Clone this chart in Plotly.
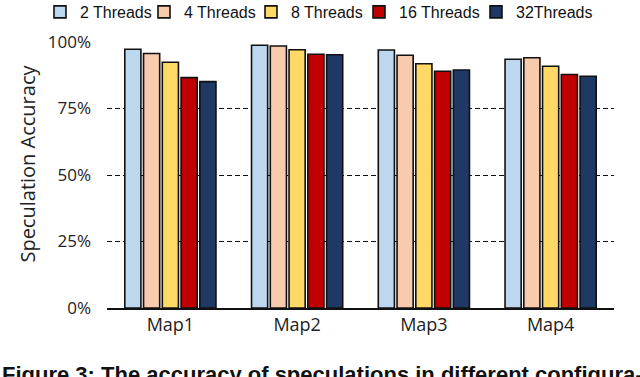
import plotly.graph_objects as go

maps = ["Map1", "Map2", "Map3", "Map4"]
series_names = ["2 Threads", "4 Threads", "8 Threads", "16 Threads", "32Threads"]
acc_2t = [0.973, 0.988, 0.970, 0.935]
acc_4t = [0.957, 0.985, 0.950, 0.941]
acc_8t = [0.924, 0.971, 0.918, 0.909]
acc_16t = [0.866, 0.954, 0.890, 0.878]
acc_32t = [0.851, 0.952, 0.895, 0.871]
colors = ["#BDD7EE", "#F8CBAD", "#FFD966", "#C00000", "#1F3864"]

# one legend per series so each entry sits where the original has it
legend_x = [40, 144, 251, 359, 476]

fig = go.Figure()
for i, (name, vals, col) in enumerate(zip(series_names, [acc_2t, acc_4t, acc_8t, acc_16t, acc_32t], colors)):
    lg = "legend" if i == 0 else f"legend{i + 1}"
    fig.add_trace(go.Bar(name=name, x=maps, y=vals, marker_color=col, legend=lg,
                         marker_line=dict(color="#111111", width=1.6)))
    fig.update_layout({lg: dict(x=legend_x[i] / 640, y=1 - 12 / 377, xref="container", yref="container",
                                xanchor="left", yanchor="middle", bgcolor="rgba(0,0,0,0)",
                                font=dict(family="Liberation Sans", size=16, color="#111111"))})

fig.update_layout(
    width=640, height=377,
    margin=dict(l=107, r=26, t=42, b=69, autoexpand=False),
    barmode="group", bargap=0.26, bargroupgap=0.14,
    plot_bgcolor="white", paper_bgcolor="white",
    font=dict(family="Open Sans", size=17, color="#222222"),
    showlegend=True,
)
fig.update_yaxes(range=[0, 1], tickvals=[0, 0.25, 0.5, 0.75, 1.0], tickformat=".0%",
                 showgrid=True, gridcolor="#111111", griddash="5px,3px", gridwidth=1,
                 zeroline=False, showline=False, ticks="", ticklabelstandoff=15)
fig.update_xaxes(showline=True, linecolor="#111111", linewidth=1.5, ticks="",
                 tickfont=dict(size=18))

# axis title and caption as annotations
fig.add_annotation(text="Speculation Accuracy", textangle=-90, xref="paper", yref="paper",
                   x=(28 - 107) / 507, y=0.543, xanchor="center", yanchor="middle", showarrow=False,
                   font=dict(family="Open Sans", size=20, color="#222222"))
fig.add_annotation(text="<b>Figure 3: The accuracy of speculations in different configura-</b>",
                   xref="paper", yref="paper", x=-107 / 507, y=-0.195, xanchor="left", yanchor="top",
                   showarrow=False, font=dict(family="Liberation Sans", size=22, color="#111111"))

# the browser's default 8px body margin would shift the whole figure
fig.write_html("out.html", config={"displayModeBar": False},
               post_script="document.body.style.margin='0';")
